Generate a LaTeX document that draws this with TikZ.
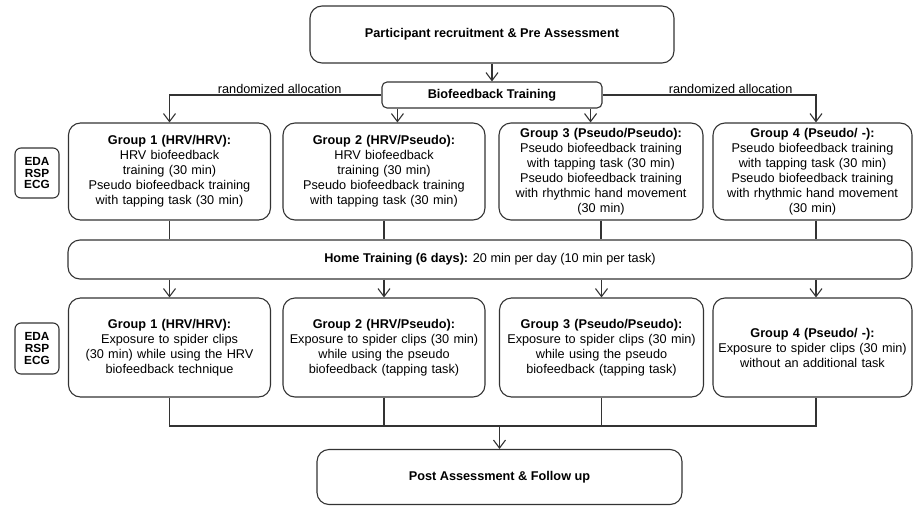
\documentclass[tikz,border=0pt]{standalone}
\usepackage{fontspec}
\setmainfont{Liberation Sans}
\usetikzlibrary{arrows.meta}

\tikzstyle{box} = [draw=black!80,
    line width=1.1pt,
    rounded corners=12pt,
    align=center,
    inner sep=2pt,
    font=\fontsize{12.7}{15}\selectfont]
\tikzstyle{stage} = [box,
    font=\fontsize{12.7}{15}\selectfont\bfseries]
\tikzstyle{group} = [box,
    minimum width=202pt,
    text width=196pt,
    minimum height=97pt]
\tikzstyle{sensor} = [draw=black!80,
    line width=1.1pt,
    rounded corners=6pt,
    align=center,
    inner sep=0pt,
    minimum width=44pt,
    minimum height=50pt,
    font=\fontsize{11.8}{11.6}\selectfont\bfseries]
\tikzstyle{output} = [coordinate]

\begin{document}
\begin{tikzpicture}[x=1pt, y=-1pt, line width=1.1pt, draw=black!80,
            >={Straight Barb[length=8pt,width=12pt]}]
            \useasboundingbox (0,0) rectangle (917,506);
            \node (recruit) [stage, minimum width=364pt, minimum height=57pt] at (492,34.5) {Participant recruitment \& Pre Assessment};
            \node (biofb) [stage, rounded corners=5pt, minimum width=220pt, minimum height=26pt] at (492,95) {Biofeedback Training};
            \node (g1a) [group] at (169.5,171.5) {\textbf{Group 1 (HRV/HRV):}\\HRV biofeedback\\training (30 min)\\Pseudo biofeedback training\\with tapping task (30 min)};
            \node (g2a) [group] at (384,171.5) {\textbf{Group 2 (HRV/Pseudo):}\\HRV biofeedback\\training (30 min)\\Pseudo biofeedback training\\with tapping task (30 min)};
            \node (g3a) [group, minimum width=204pt] at (601,171.5) {\textbf{Group 3 (Pseudo/Pseudo):}\\Pseudo biofeedback training\\with tapping task (30 min)\\Pseudo biofeedback training\\with rhythmic hand movement\\(30 min)};
            \node (g4a) [group, minimum width=199pt, text width=193pt] at (812.5,171.5) {\textbf{Group 4 (Pseudo/ -):}\\Pseudo biofeedback training\\with tapping task (30 min)\\Pseudo biofeedback training\\with rhythmic hand movement\\(30 min)};
            \node (sensa) [sensor] at (37,173) {EDA\\RSP\\ECG};
            \node (home) [box, minimum width=844pt, minimum height=39pt] at (490,259.5) {\textbf{Home Training (6 days):} 20 min per day (10 min per task)};
            \node (g1b) [group, minimum height=99pt] at (169.5,347.5) {\textbf{Group 1 (HRV/HRV):}\\Exposure to spider clips\\(30 min) while using the HRV\\biofeedback technique};
            \node (g2b) [group, minimum height=99pt] at (384,347.5) {\textbf{Group 2 (HRV/Pseudo):}\\Exposure to spider clips (30 min)\\while using the pseudo\\biofeedback (tapping task)};
            \node (g3b) [group, minimum height=99pt, minimum width=204pt] at (601.5,347.5) {\textbf{Group 3 (Pseudo/Pseudo):}\\Exposure to spider clips (30 min)\\while using the pseudo\\biofeedback (tapping task)};
            \node (g4b) [group, minimum height=99pt, minimum width=199pt, text width=193pt] at (812.5,347.5) {\textbf{Group 4 (Pseudo/ -):}\\Exposure to spider clips (30 min)\\without an additional task};
            \node (sensb) [sensor, minimum height=51pt] at (37,348.5) {EDA\\RSP\\ECG};
            \node (post) [stage, minimum width=365pt, minimum height=55pt] at (499.5,477) {Post Assessment \& Follow up};
            \node (merge) [output] at (499.5,426) {};
            \draw [draw,->] (recruit) -- (biofb);
            \draw [draw,->] (biofb.west) -| node[pos=0.24, above, inner sep=1pt, font=\fontsize{12.7}{15}\selectfont] {randomized allocation} (g1a.north);
            \draw [draw,->] (biofb.east) -| node[pos=0.3, above, inner sep=1pt, font=\fontsize{12.7}{15}\selectfont] {randomized allocation} ([xshift=3.5pt]g4a.north);
            \draw [draw,->] ([xshift=16pt]biofb.south west) -- ([xshift=16pt]biofb.south west |- g2a.north);
            \draw [draw,->] ([xshift=-12pt]biofb.south east) -- ([xshift=-12pt]biofb.south east |- g3a.north);
            \draw [draw] (g1a) -- (g1a.south |- home.north);
            \draw [draw] (g2a) -- (g2a.south |- home.north);
            \draw [draw] (g3a) -- (g3a.south |- home.north);
            \draw [draw] ([xshift=3.5pt]g4a.south) -- ([xshift=3.5pt]g4a.south |- home.north);
            \draw [draw,->] (g1b.north |- home.south) -- (g1b);
            \draw [draw,->] (g2b.north |- home.south) -- (g2b);
            \draw [draw,->] (g3b.north |- home.south) -- (g3b);
            \draw [draw,->] ([xshift=3.5pt]g4b.north |- home.south) -- ([xshift=3.5pt]g4b.north);
            \draw [draw] (g1b.south) |- (merge) -| ([xshift=3.5pt]g4b.south);
            \draw [draw] (g2b) -- (g2b.south |- merge);
            \draw [draw] (g3b) -- (g3b.south |- merge);
            \draw [draw,->] (merge) -- (post);
\end{tikzpicture}
\end{document}
